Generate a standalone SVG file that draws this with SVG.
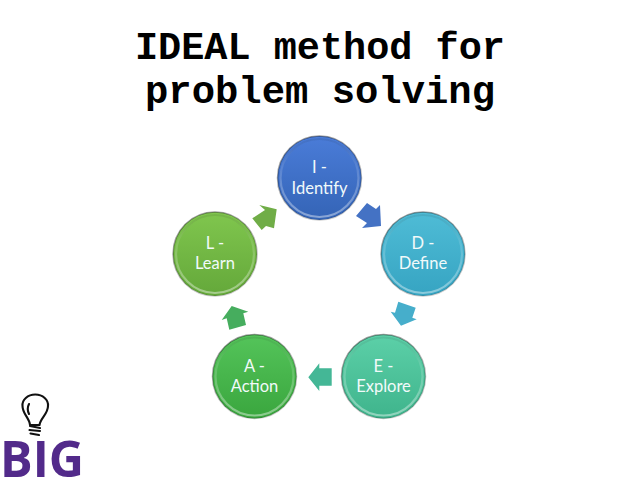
<svg xmlns="http://www.w3.org/2000/svg" width="638" height="479" viewBox="0 0 638 479">
<style>
.t{font-family:"Liberation Mono","Courier New",monospace;font-weight:700;font-size:38.500px;fill:#000;text-anchor:middle}
.l{font-family:Lato,"Open Sans",sans-serif;font-size:16.500px;fill:#f1fafa;text-anchor:middle}
.hl{fill:none;stroke-width:2.200}
.rim{fill:none;stroke-width:1.500}
.b{fill:none;stroke:#111;stroke-width:2.100;stroke-linecap:round;stroke-linejoin:round}
</style>
<defs>
<linearGradient id="rimg" x1="0.3" y1="0" x2="0.7" y2="1"><stop offset="0" stop-color="#000" stop-opacity=".4"/><stop offset="1" stop-color="#000" stop-opacity=".18"/></linearGradient>
<linearGradient id="hi" x1="0.5" y1="0" x2="0.5" y2="1"><stop offset="0" stop-color="#000" stop-opacity=".08"/><stop offset=".35" stop-color="#fff" stop-opacity=".12"/><stop offset="1" stop-color="#fff" stop-opacity=".42"/></linearGradient>
<linearGradient id="gi" x1="0" y1="0" x2="0" y2="1"><stop offset="0" stop-color="#4a7cd8"/><stop offset="1" stop-color="#3464b6"/></linearGradient>
<linearGradient id="gd" x1="0" y1="0" x2="0" y2="1"><stop offset="0" stop-color="#4fbcd6"/><stop offset="1" stop-color="#36a4c2"/></linearGradient>
<linearGradient id="ge" x1="0" y1="0" x2="0" y2="1"><stop offset="0" stop-color="#5cd0a8"/><stop offset="1" stop-color="#3fb48c"/></linearGradient>
<linearGradient id="ga" x1="0" y1="0" x2="0" y2="1"><stop offset="0" stop-color="#54c45a"/><stop offset="1" stop-color="#3aa63e"/></linearGradient>
<linearGradient id="gl" x1="0" y1="0" x2="0" y2="1"><stop offset="0" stop-color="#80c64e"/><stop offset="1" stop-color="#64a83a"/></linearGradient>
</defs>
<g id="title">
<text class="t" x="320" y="59" textLength="370" lengthAdjust="spacingAndGlyphs">IDEAL method for</text>
<text class="t" x="320" y="103" textLength="350" lengthAdjust="spacingAndGlyphs">problem solving</text>
</g>
<g id="connectors">
<polygon fill="#4472c4" points="356,216 367,203 376,209 380,205 381,226 362,228 367,223"/>
<polygon fill="#46aecb" points="398.300,301.700 415.700,307.700 412.300,317.700 416.700,319.300 401,325.700 390.700,311.700 395,312.700"/>
<polygon fill="#44b796" points="331.700,368.300 319.300,368.300 319.300,363.300 308.300,377.300 319.300,391 319.300,385.700 331.700,385.700"/>
<polygon fill="#46ad5e" points="229.300,329.700 246,325 243.300,313.300 248.300,311.700 231.700,306 221.700,320 226.700,318.300"/>
<polygon fill="#70ad47" points="252.300,218.300 265,210 259.300,205 276.700,209.300 274,228.300 266,226 261.700,230"/>
</g>
<g id="node-i">
<circle cx="319.500" cy="178" r="42" fill="url(#gi)"/>
<circle cx="319.500" cy="178" r="42" stroke="url(#rimg)" class="rim"/>
<circle cx="319.500" cy="178" r="39" class="hl" stroke="url(#hi)"/>
<text class="l" x="319.500" y="173">I -</text><text class="l" x="319.500" y="194">Identify</text>
</g>
<g id="node-d">
<circle cx="423" cy="254" r="42" fill="url(#gd)"/>
<circle cx="423" cy="254" r="42" stroke="url(#rimg)" class="rim"/>
<circle cx="423" cy="254" r="39" class="hl" stroke="url(#hi)"/>
<text class="l" x="423" y="249">D -</text><text class="l" x="423" y="269">Define</text>
</g>
<g id="node-e">
<circle cx="383.500" cy="376.500" r="42" fill="url(#ge)"/>
<circle cx="383.500" cy="376.500" r="42" stroke="url(#rimg)" class="rim"/>
<circle cx="383.500" cy="376.500" r="39" class="hl" stroke="url(#hi)"/>
<text class="l" x="383.500" y="372">E -</text><text class="l" x="383.500" y="392">Explore</text>
</g>
<g id="node-a">
<circle cx="254.500" cy="376.500" r="42" fill="url(#ga)"/>
<circle cx="254.500" cy="376.500" r="42" stroke="url(#rimg)" class="rim"/>
<circle cx="254.500" cy="376.500" r="39" class="hl" stroke="url(#hi)"/>
<text class="l" x="254.500" y="372">A -</text><text class="l" x="254.500" y="392">Action</text>
</g>
<g id="node-l">
<circle cx="215" cy="254" r="42" fill="url(#gl)"/>
<circle cx="215" cy="254" r="42" stroke="url(#rimg)" class="rim"/>
<circle cx="215" cy="254" r="39" class="hl" stroke="url(#hi)"/>
<text class="l" x="215" y="249">L -</text><text class="l" x="215" y="269">Learn</text>
</g>
<g id="logo">
<path class="b" d="M30 425 C29.500 418 22.500 414 22.500 406 A12.800 10.500 0 1 1 48 406 C48 414 40.500 418 39.500 425 Z"/>
<path class="b" d="M29 414 C27 410 27.500 407 29 404"/>
<path class="b" stroke-width="2.200" d="M30 426 L40 428 M29.500 430 L40 431 M30.500 433.500 L39 435"/>
<text x="0" y="477" font-family="'Open Sans',sans-serif" font-weight="700" font-size="51" fill="#522a8a" textLength="84" lengthAdjust="spacingAndGlyphs">BIG</text>
</g>
</svg>
